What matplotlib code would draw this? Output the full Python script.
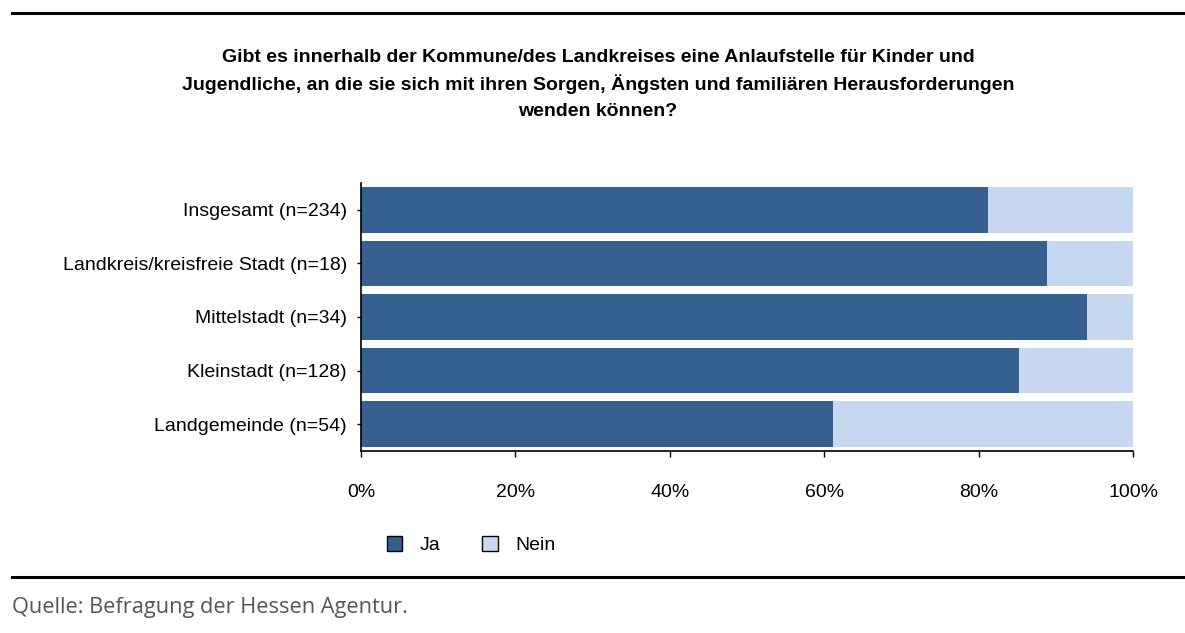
import matplotlib.pyplot as plt
from matplotlib.lines import Line2D
from matplotlib.patches import Patch

plt.rcParams['font.family'] = ['Liberation Sans', 'DejaVu Sans']

# data (share in %)
categories = ["Insgesamt (n=234)", "Landkreis/kreisfreie Stadt (n=18)",
              "Mittelstadt (n=34)", "Kleinstadt (n=128)", "Landgemeinde (n=54)"]
ja = [81.2, 88.9, 94.1, 85.2, 61.1]
nein = [100 - v for v in ja]
xticks = [0, 20, 40, 60, 80, 100]
title_lines = ["Gibt es innerhalb der Kommune/des Landkreises eine Anlaufstelle für Kinder und",
               "Jugendliche, an die sie sich mit ihren Sorgen, Ängsten und familiären Herausforderungen",
               "wenden können?"]

c_ja = '#35608F'
c_nein = '#C7D9F0'

fig = plt.figure(figsize=(11.85, 6.33), dpi=100)
ax = fig.add_axes([361/1185, 1 - 451/633, 772/1185, 268/633])

y = list(range(len(categories)))
ax.barh(y, ja, height=0.85, color=c_ja)
ax.barh(y, nein, left=ja, height=0.85, color=c_nein)

ax.set_ylim(len(categories) - 0.5, -0.5)
ax.set_xlim(0, 100)
ax.set_yticks(y)
ax.set_yticklabels(categories, fontsize=14)
ax.tick_params(axis='y', length=3, width=1, pad=7)
ax.set_xticks(xticks)
ax.set_xticklabels([f"{t}%" for t in xticks], fontsize=14)
ax.tick_params(axis='x', length=4, width=1, pad=20)
for s in ['top', 'right']:
    ax.spines[s].set_visible(False)
for s in ['left', 'bottom']:
    ax.spines[s].set_linewidth(1.2)

# title, one text per line so the spacing is even
for i, line in enumerate(title_lines):
    fig.text(598/1185, 1 - (57 + 27.5 * i)/633, line,
             ha='center', va='center', fontsize=14, fontweight='bold')

handles = [Patch(facecolor=c_ja, edgecolor='black', label='Ja'),
           Patch(facecolor=c_nein, edgecolor='black', label='Nein')]
fig.legend(handles=handles, loc='center', bbox_to_anchor=(471/1185, 1 - 545/633),
           ncol=2, frameon=False, fontsize=14, handlelength=0.8, handleheight=0.8,
           columnspacing=2.15, handletextpad=0.9)

fig.add_artist(Line2D([12/1185, 1], [1 - 13/633] * 2, color='black', lw=2.2))
fig.add_artist(Line2D([12/1185, 1], [1 - 577/633] * 2, color='black', lw=2.2))
fig.text(12/1185, 1 - 607/633, "Quelle: Befragung der Hessen Agentur.",
         ha='left', va='center', fontsize=15.7, color='#555555', family=['Open Sans', 'DejaVu Sans'])

fig.savefig('out.png', dpi=100)
